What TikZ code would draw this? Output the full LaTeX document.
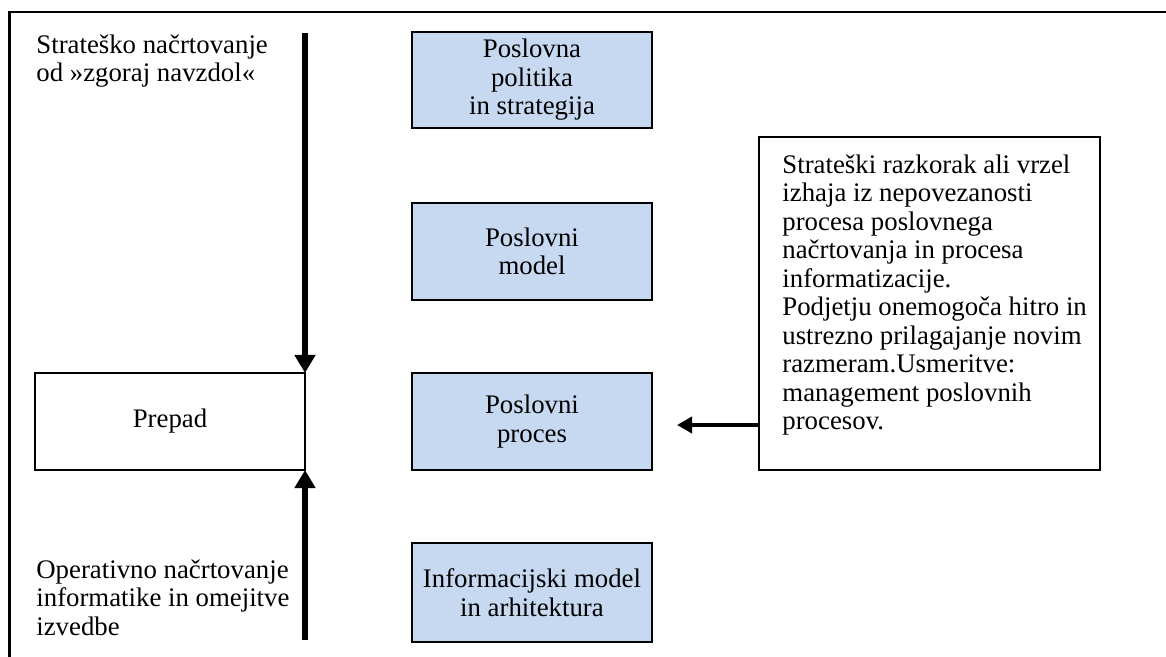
\documentclass[tikz,border=0pt]{standalone}
\usepackage{fontspec}
\setmainfont{Liberation Serif}
\usetikzlibrary{arrows.meta}
\definecolor{boxblue}{HTML}{C6D9F1}
\begin{document}
\begin{tikzpicture}[x=0.5pt,y=-0.5pt,
  txt/.style={font=\fontsize{13.4pt}{14.25pt}\selectfont},
  level/.style={txt, draw=black, line width=0.8pt, fill=boxblue, align=center,
    minimum width=120pt, inner sep=0pt, outer sep=0pt},
  label/.style={txt, align=left, anchor=north west, inner sep=0pt},
  bigarrow/.style={line width=3.2pt, -{Triangle[length=9pt,width=10pt]}},
  midarrow/.style={line width=2.2pt, -{Triangle[length=7.5pt,width=8pt]}}
]
\useasboundingbox (0,0) rectangle (1166,657);

% page frame (top and left rules)
\draw[line width=1.2pt] (9.5,657) -- (9.5,12) -- (1166,12);

% levels of planning
\node[level, minimum height=48pt]   (policy)   at (532,80)    {Poslovna\\politika\\in strategija};
\node[level, minimum height=48.5pt] (bmodel)   at (532,251.5) {Poslovni\\model};
\node[level, minimum height=48.5pt] (bproc)    at (532,421.5) {Poslovni\\proces};
\node[level, minimum height=49.5pt] (infmodel) at (532,592.5) {Informacijski model\\in arhitektura};

% the gap
\node[txt, draw, line width=0.7pt, minimum width=135pt, minimum height=48.5pt,
  inner sep=0pt, outer sep=0pt] (gapbox) at (170,421.5) {Prepad};

% side labels
\node[label] (topdown)  at (36,34)  {Strateško načrtovanje\\od »zgoraj navzdol«};
\node[label] (bottomup) at (36,559) {Operativno načrtovanje\\informatike in omejitve\\izvedbe};

% explanatory note
\node[draw, line width=1pt, minimum width=170.5pt, minimum height=166.5pt,
  inner sep=0pt, outer sep=0pt, anchor=north west] (note) at (759,137) {};
\node[label] (notetext) at ([xshift=11.5pt,yshift=-8.5pt]note.north west)
  {Strateški razkorak ali vrzel\\izhaja iz nepovezanosti\\procesa poslovnega\\načrtovanja in procesa\\informatizacije.\\Podjetju onemogoča hitro in\\ustrezno prilagajanje novim\\razmeram.Usmeritve:\\management poslovnih\\procesov.};

% arrows
\coordinate (topstart) at (305,33);
\coordinate (botstart) at (305,640);
\coordinate (gaptip)   at (677,425);
\draw[bigarrow] (topstart) -- (gapbox.north east);
\draw[bigarrow] (botstart) -- (gapbox.south east);
\draw[midarrow] (note.west |- gaptip) -- (gaptip);
\end{tikzpicture}
\end{document}
